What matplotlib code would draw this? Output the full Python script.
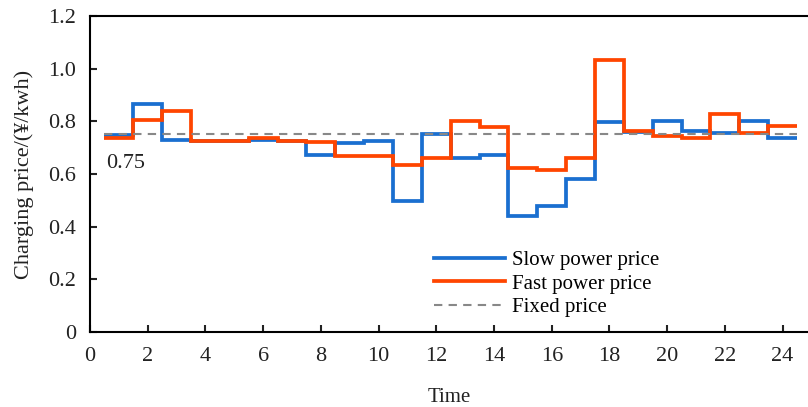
import matplotlib
matplotlib.use("Agg")
import matplotlib.pyplot as plt
import numpy as np

plt.rcParams['font.family'] = ['Liberation Serif', 'DejaVu Serif']
plt.rcParams['mathtext.fontset'] = 'stix'

# hourly prices, hour 1..24
hours = np.arange(1, 25)
slow_price = [0.748, 0.865, 0.729, 0.727, 0.727, 0.730, 0.725, 0.672, 0.719, 0.725,
              0.499, 0.751, 0.660, 0.672, 0.440, 0.478, 0.580, 0.796, 0.760, 0.800,
              0.763, 0.757, 0.800, 0.738]
fast_price = [0.735, 0.805, 0.840, 0.727, 0.727, 0.735, 0.725, 0.723, 0.668, 0.668,
              0.634, 0.660, 0.800, 0.777, 0.624, 0.615, 0.660, 1.033, 0.765, 0.746,
              0.735, 0.827, 0.755, 0.782]
fixed_price = 0.75

x_ticks = np.arange(0, 25, 2)
y_ticks = [0, 0.2, 0.4, 0.6, 0.8, 1.0, 1.2]
y_labels = ['0', '0.2', '0.4', '0.6', '0.8', '1.0', '1.2']

fig = plt.figure(figsize=(8.08, 4.07), dpi=100)
ax = fig.add_axes([0.1114, 0.1843, 0.8886, 0.7764])

# step edges: each hour spans [h-0.5, h+0.5]
edges = np.append(hours - 0.5, hours[-1] + 0.5)
ax.stairs(slow_price, edges, color='#1a6fd0', lw=2.7, label='Slow power price', baseline=None)
ax.stairs(fast_price, edges, color='#ff4500', lw=2.7, label='Fast power price', baseline=None)
ax.plot([edges[0], edges[-1]], [fixed_price, fixed_price], color='#888888', lw=1.5,
        ls=(0, (4, 3)), label='Fixed price')

ax.text(0.55, 0.64, '0.75', fontsize=16, ha='left', va='center', color='#222222')

ax.set_xlim(0, 24.88)
ax.set_ylim(0, 1.2)
ax.set_xticks(x_ticks)
ax.set_yticks(y_ticks)
ax.set_yticklabels(y_labels)
ax.tick_params(direction='in', length=5, width=1.5, labelsize=16, colors='#222222')
ax.tick_params(axis='x', pad=11)
ax.tick_params(axis='y', pad=10)
ax.spines['right'].set_visible(False)
for s in ['left', 'bottom', 'top']:
    ax.spines[s].set_linewidth(1.5)

ax.set_xlabel('Time', fontsize=15, labelpad=16, color='#222222')
ax.set_ylabel('Charging price/(¥/kwh)', fontsize=16, labelpad=10, color='#222222')

ax.legend(loc='lower left', bbox_to_anchor=(0.468, 0.02), frameon=False, fontsize=15,
          handlelength=3.4, handletextpad=0.35, labelspacing=0.2, borderaxespad=0)

fig.savefig('out.png', dpi=100)
